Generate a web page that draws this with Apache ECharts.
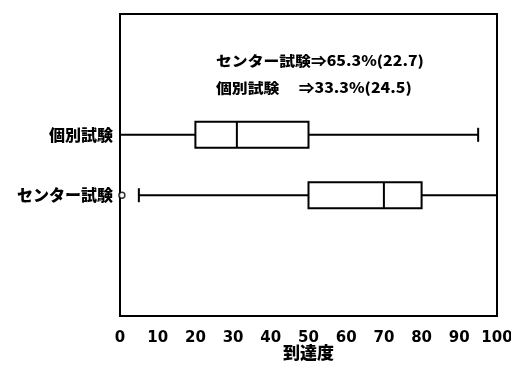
<!DOCTYPE html>
<html><head><meta charset="utf-8">
<script src="https://cdn.jsdelivr.net/npm/echarts@6/dist/echarts.min.js"></script>
<style>html,body{margin:0;padding:0;background:#fff}#c{width:511px;height:368px}</style>
</head><body><div id="c"></div>
<script>
// y slots (bottom to top); only two carry data
const yCategories = ['', '', 'センター試験', '個別試験', '', ''];
const boxCategories = ['センター試験', '個別試験'];
// [min, Q1, median, Q3, max]
const boxValues = [
  [5, 50, 70, 80, 100],
  [0, 20, 31, 50, 95]
];
const outliers = [['センター試験', 0.5]];
const xTicks = [0, 10, 20, 30, 40, 50, 60, 70, 80, 90, 100];
const noteLines = ['センター試験⇒65.3%(22.7)', '個別試験　 ⇒33.3%(24.5)'];

const FONT = '"Noto Sans CJK JP", "Noto Sans", sans-serif';
const NUMFONT = '"DejaVu Sans", "Noto Sans CJK JP", sans-serif';
const chart = echarts.init(document.getElementById('c'));
const boxData = boxCategories.map((c, i) => [c].concat(boxValues[i]));

chart.setOption({
  animation: false,
  backgroundColor: '#fff',
  grid: { left: 120, right: 14, top: 14, bottom: 52, containLabel: false, outerBoundsMode: 'none',
    show: true, borderColor: '#000', borderWidth: 2, backgroundColor: 'transparent' },
  xAxis: {
    type: 'value', min: xTicks[0], max: xTicks[xTicks.length - 1], interval: 10,
    name: '到達度', nameLocation: 'middle', nameGap: 28, nameMoveOverlap: false,
    nameTextStyle: { fontFamily: FONT, fontSize: 17, fontWeight: 900, color: '#000' },
    axisLine: { show: true, lineStyle: { color: '#000', width: 2 } },
    axisTick: { show: false },
    splitLine: { show: false },
    axisLabel: { fontFamily: NUMFONT, fontSize: 15, fontWeight: 'bold', color: '#000', margin: 15 }
  },
  yAxis: {
    type: 'category', data: yCategories, boundaryGap: false,
    axisLine: { show: true, lineStyle: { color: '#000', width: 2 } },
    axisTick: { show: false },
    splitLine: { show: false },
    axisLabel: { fontFamily: FONT, fontSize: 16, fontWeight: 900, color: '#000', margin: 7 }
  },
  graphic: noteLines.map((t, i) => ({
    type: 'text', left: 216, top: 54 + i * 27, scaleX: 1.13,
    style: { text: t, fontFamily: FONT, fontSize: 14, fontWeight: 900, fill: '#000' }
  })),
  series: [
    {
      type: 'custom',
      data: boxData,
      encode: { y: 0, x: [1, 2, 3, 4, 5] },
      renderItem: function (params, api) {
        const cat = api.value(0);
        const v = [1, 2, 3, 4, 5].map(k => api.value(k));
        const pLo = api.coord([v[0], cat]);
        const p1 = api.coord([v[1], cat]);
        const pm = api.coord([v[2], cat]);
        const p3 = api.coord([v[3], cat]);
        const pHi = api.coord([v[4], cat]);
        const y = pm[1], h = 26, cap = 14;
        const st = { stroke: '#000', lineWidth: 2, fill: null };
        return {
          type: 'group',
          children: [
            { type: 'line', shape: { x1: pLo[0], y1: y, x2: p1[0], y2: y }, style: st },
            { type: 'line', shape: { x1: p3[0], y1: y, x2: pHi[0], y2: y }, style: st },
            { type: 'line', shape: { x1: pLo[0], y1: y - cap / 2, x2: pLo[0], y2: y + cap / 2 }, style: st },
            { type: 'line', shape: { x1: pHi[0], y1: y - cap / 2, x2: pHi[0], y2: y + cap / 2 }, style: st },
            { type: 'rect', shape: { x: p1[0], y: y - h / 2, width: p3[0] - p1[0], height: h }, style: { stroke: '#000', lineWidth: 2, fill: '#fff' } },
            { type: 'line', shape: { x1: pm[0], y1: y - h / 2, x2: pm[0], y2: y + h / 2 }, style: st }
          ]
        };
      }
    },
    {
      type: 'scatter',
      data: outliers.map(o => [o[1], o[0]]),
      symbol: 'circle', symbolSize: 6,
      itemStyle: { color: '#fff', borderColor: '#000', borderWidth: 1.5 }
    }
  ]
});
</script></body></html>
